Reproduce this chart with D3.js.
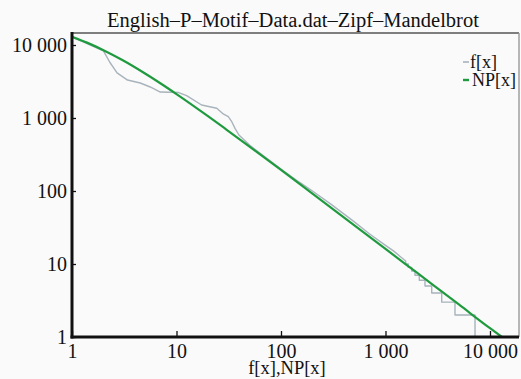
<!DOCTYPE html>
<html>
<head>
<meta charset="utf-8">
<script src="https://cdn.jsdelivr.net/npm/d3@7"></script>
<style>
html,body{margin:0;padding:0;background:#fafafa;}
svg{display:block;}
text{font-family:"Liberation Serif","DejaVu Serif",serif;fill:#111;}
</style>
</head>
<body>
<svg id="chart" width="521" height="379"></svg>
<script>
// ---- data ----
const title = "English–P–Motif–Data.dat–Zipf–Mandelbrot";
const xTicks = [1, 10, 100, 1000, 10000];
const xTickLabels = ["1", "10", "100", "1 000", "10 000"];
const yTicks = [1, 10, 100, 1000, 10000];
const yTickLabels = ["1", "10", "100", "1 000", "10 000"];
const seriesNames = ["f[x]", "NP[x]"];
const axisLabel = "f[x],NP[x]";

// NP[x] (fitted curve)
const npX = [1, 1.5, 2, 3, 5, 7, 10, 20, 30, 50, 100, 200, 500, 1000, 2000, 5000, 10000, 13000];
const npY = [12940, 10280, 8490, 6270, 4070, 2995, 2128, 1060, 695, 406, 194, 91.8, 34.1, 16.1, 7.59, 2.81, 1.32, 1.0];

// f[x] observed rank-frequency, smooth part
const fX = [1, 2, 2.3, 2.7, 3.4, 4.5, 5.6, 7, 10.5, 12.5, 17.4, 24.3, 28, 31.3, 33.8, 36.3, 39.6, 50, 70, 100, 150, 200, 300, 500, 700, 1000, 1200, 1400, 1560];
const fY = [12900, 8300, 5800, 4150, 3310, 3015, 2660, 2270, 2230, 2030, 1507, 1358, 1135, 1042, 890, 722, 585, 425, 295, 200, 132, 100, 66, 38, 26, 18, 15, 12.5, 11];
// f[x] stepped tail: frequency level and last rank having it
const stepLevels = [10, 9, 8, 7, 6, 5, 4, 3, 2, 1];
const stepLastRank = [1652, 1782, 1915, 2105, 2388, 2768, 3450, 4624, 7190, 11000];

// ---- layout ----
const svg = d3.select("#chart");
const L = 72, R = 519, T = 33, B = 337;
const x = d3.scaleLog().domain([1, 18950]).range([L, R]);
const y = d3.scaleLog().domain([1, 14600]).range([B, T]);

const green = "#1f9a3e", gray = "#a8b3bc";

svg.append("defs").append("clipPath").attr("id", "clip")
  .append("rect").attr("x", L).attr("y", T).attr("width", R - L).attr("height", B - T);

// frame (top / right thin)
svg.append("line").attr("x1", L).attr("x2", R).attr("y1", T).attr("y2", T)
  .attr("stroke", "#555").attr("stroke-width", 1.6);
svg.append("line").attr("x1", R).attr("x2", R).attr("y1", T).attr("y2", B)
  .attr("stroke", "#999").attr("stroke-width", 1.4);

// series
const line = d3.line().x(d => x(d[0])).y(d => y(d[1]));
const fPts = fX.map((v, i) => [v, fY[i]]);
let prev = fX[fX.length - 1];
stepLevels.forEach((lv, i) => {
  fPts.push([prev + 1, lv]);
  fPts.push([stepLastRank[i], lv]);
  prev = stepLastRank[i];
});
const g = svg.append("g").attr("clip-path", "url(#clip)");
g.append("path").attr("d", line(fPts)).attr("fill", "none")
  .attr("stroke", gray).attr("stroke-width", 1.4).attr("stroke-linejoin", "round");
const npPts = npX.map((v, i) => [v, npY[i]]);
g.append("path").attr("d", d3.line().x(d => x(d[0])).y(d => y(d[1])).curve(d3.curveMonotoneX)(npPts))
  .attr("fill", "none").attr("stroke", green).attr("stroke-width", 2.2);

// axes
const xAxis = d3.axisBottom(x).tickValues(xTicks).tickSize(0).tickFormat((d, i) => xTickLabels[i]);
const yAxis = d3.axisLeft(y).tickValues(yTicks).tickSize(0).tickFormat((d, i) => yTickLabels[i]);

const gx = svg.append("g").attr("transform", `translate(0,${B})`).call(xAxis);
gx.select(".domain").remove();
gx.selectAll("text").attr("font-size", 20).attr("y", 7).attr("dy", "0.71em")
  .attr("font-family", "Liberation Serif").attr("fill", "#111");
gx.selectAll(".tick").append("line").attr("y1", 0).attr("y2", -6)
  .attr("stroke", "#111").attr("stroke-width", 1.3);

const gy = svg.append("g").attr("transform", `translate(${L},0)`).call(yAxis);
gy.select(".domain").remove();
gy.selectAll("text").attr("font-size", 20).attr("x", -5).attr("dy", "0.33em")
  .attr("font-family", "Liberation Serif").attr("fill", "#111");
gy.selectAll(".tick").append("line").attr("x1", 0).attr("x2", 4)
  .attr("stroke", "#111").attr("stroke-width", 1.3);

// thick left & bottom axis lines
svg.append("line").attr("x1", L).attr("x2", L).attr("y1", T - 1).attr("y2", B + 1.5)
  .attr("stroke", "#111").attr("stroke-width", 3);
svg.append("line").attr("x1", L - 1.5).attr("x2", R).attr("y1", B).attr("y2", B)
  .attr("stroke", "#111").attr("stroke-width", 3);

// title
svg.append("text").attr("x", 293).attr("y", 27).attr("text-anchor", "middle")
  .attr("font-size", 20.5).text(title);

// axis label
svg.append("text").attr("x", 287).attr("y", 374).attr("text-anchor", "middle")
  .attr("font-size", 18.5).text(axisLabel);

// legend
const legColors = [gray, green];
const lg = svg.append("g");
seriesNames.forEach((s, i) => {
  const yy = 62 + i * 18;
  lg.append("line").attr("x1", 463).attr("x2", 469).attr("y1", yy).attr("y2", yy)
    .attr("stroke", legColors[i]).attr("stroke-width", i ? 2.4 : 1.6);
  lg.append("text").attr("x", i ? 472 : 470).attr("y", yy).attr("dy", "0.33em")
    .attr("font-size", 18).text(s);
});
</script>
</body>
</html>
